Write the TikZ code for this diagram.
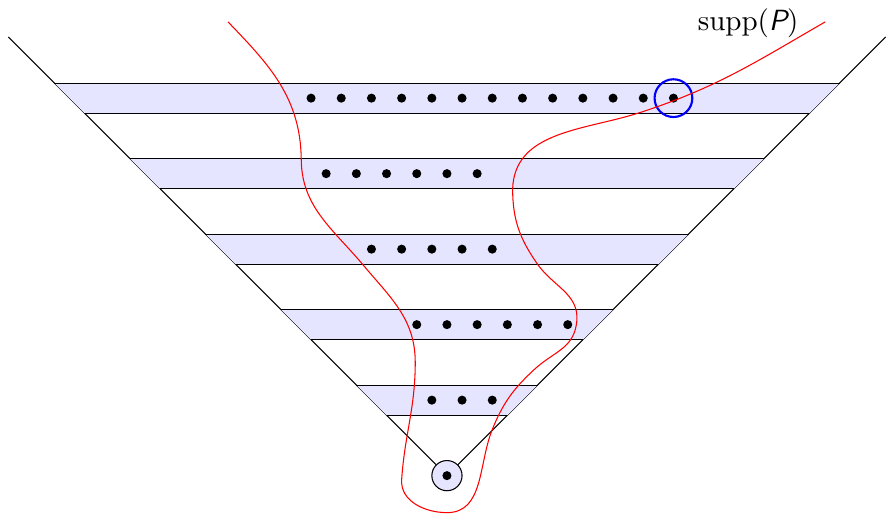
\documentclass[tikz,border=0pt]{standalone}
\usepackage{amsmath}
\begin{document}
\begin{tikzpicture}[
  x=1cm, y=1cm,
  bandfill/.style={fill=blue!10},
  edge/.style={draw=black, line width=0.4pt},
  dot/.style={circle, fill=black, inner sep=0pt, minimum size=0.12cm},
  rootnode/.style={circle, draw=black, fill=blue!10, inner sep=0pt, minimum size=0.4cm},
  pick/.style={circle, draw=blue, thick, inner sep=0pt, minimum size=0.5cm},
  supportcurve/.style={red, line width=0.4pt}
]
\useasboundingbox (-5.92,-0.52) rectangle (5.815,6.30);

% root of the tree
\node[rootnode] (root) at (0,0) {};
\coordinate (topL) at (-5.81,5.81);
\coordinate (topR) at (5.81,5.81);

% the two sides of the cone
\draw[edge] (root) -- (topL);
\draw[edge] (root) -- (topR);

% levels: shaded strips between the sides
\foreach \k in {1,...,5} {
  \fill[bandfill] (-\k-0.2,\k+0.2) -- (\k+0.2,\k+0.2) -- (\k-0.2,\k-0.2) -- (-\k+0.2,\k-0.2) -- cycle;
  \coordinate (tl\k) at (-\k-0.2,\k+0.2);
  \coordinate (tr\k) at (\k+0.2,\k+0.2);
  \coordinate (bl\k) at (-\k+0.2,\k-0.2);
  \coordinate (br\k) at (\k-0.2,\k-0.2);
  \draw[edge] (tl\k) -- (tr\k);
  \draw[edge] (bl\k) -- (br\k);
}

% points on each level
\node[dot] (d0) at (0,0) {};
\foreach \x [count=\i] in {-0.2,0.2,0.6} \node[dot] (a\i) at (\x,1) {};
\foreach \x [count=\i] in {-0.4,0,0.4,0.8,1.2,1.6} \node[dot] (b\i) at (\x,2) {};
\foreach \x [count=\i] in {-1.0,-0.6,-0.2,0.2,0.6} \node[dot] (c\i) at (\x,3) {};
\foreach \x [count=\i] in {-1.6,-1.2,-0.8,-0.4,0,0.4} \node[dot] (e\i) at (\x,4) {};
\foreach \i in {0,...,12} \node[dot] (f\i) at ({-1.8+0.4*\i},5) {};

% marked point
\node[pick] (marked) at (3.0,5) {};

% the support
\draw[supportcurve] (-2.90,6.01)
  to[out=-46,in=91] (-1.93,4.2)
  to[out=-90,in=130] (-1.11,2.79)
  to[out=-50,in=90] (-0.42,1.5)
  to[out=-90,in=86] (-0.60,-0.05)
  to[out=-94,in=180] (0,-0.49)
  to[out=0,in=-112] (0.6,0.61)
  to[out=68,in=-137] (1.15,1.40)
  to[out=43,in=-95,looseness=1.1] (1.72,2.05)
  to[out=85,in=-55] (1.2,2.8)
  to[out=125,in=-90] (0.87,3.8)
  to[out=88,in=-162] (2.56,4.81)
  to[out=18,in=-150] (5.01,6.01);

\node[anchor=base, font=\fontsize{11}{13}\selectfont] (label) at (3.99,5.89) {$\operatorname{supp}(\textsf{\slshape P})$};
\end{tikzpicture}
\end{document}
